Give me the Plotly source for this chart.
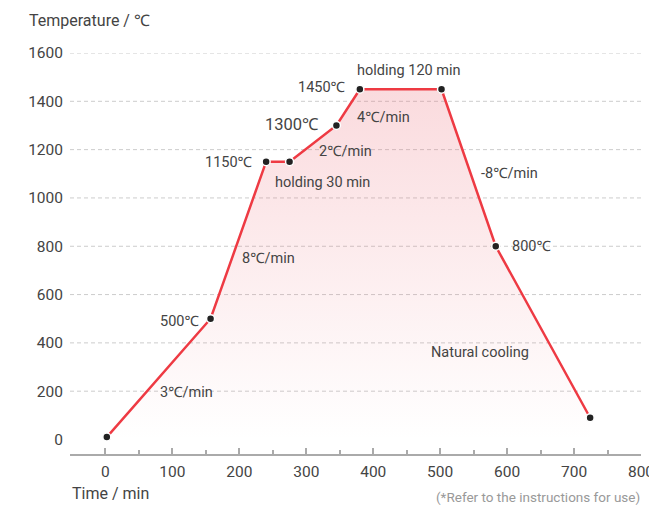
import plotly.graph_objects as go

# firing curve
TIME_MIN = [2, 157, 240, 275, 345, 380, 502, 583, 724]
TEMP_C = [10, 500, 1150, 1150, 1300, 1450, 1450, 800, 90]

X_TICKS = [0, 100, 200, 300, 400, 500, 600, 700, 800]
X_MINOR = [50, 150, 250, 350, 450, 550, 650, 750]
Y_TICKS = [0, 200, 400, 600, 800, 1000, 1200, 1400, 1600]
GRID_LEVELS = [200, 400, 600, 800, 1000, 1200, 1400, 1600]

FONT = "Roboto, Noto Sans, DejaVu Sans, sans-serif"
TEXT_COLOR = "#444444"
RED = "#ee3a43"

fig = go.Figure()
fig.add_trace(
    go.Scatter(
        x=TIME_MIN,
        y=TEMP_C,
        mode="lines+markers",
        line={"color": RED, "width": 2.5},
        marker={"color": "#222222", "size": 8, "line": {"color": "white", "width": 1.5}},
        fill="tozeroy",
        fillgradient={
            "type": "vertical",
            "colorscale": [
                [0, "rgba(236,110,122,0.0)"],
                [1, "rgba(236,110,122,0.25)"],
            ],
        },
        hoverinfo="x+y",
        showlegend=False,
    )
)

for lvl in GRID_LEVELS:
    fig.add_shape(
        type="line", xref="paper", x0=0, x1=1, yref="y", y0=lvl, y1=lvl,
        line={"color": "#cccccc", "width": 1, "dash": "4px,3px"},
        layer="below",
    )

# (text, x, y, xanchor, size)
labels = [
    ("holding 120 min", 453, 1528, "center", 14.5),
    ("1450℃", 362, 1457, "right", 14.5),
    ("4℃/min", 415, 1333, "center", 14.5),
    ("1300℃", 322, 1304, "right", 16.5),
    ("2℃/min", 358, 1193, "center", 14.5),
    ("1150℃", 224, 1147, "right", 14.5),
    ("holding 30 min", 324, 1064, "center", 14.5),
    ("-8℃/min", 604, 1101, "center", 14.5),
    ("800℃", 605, 799, "left", 14.5),
    ("8℃/min", 243, 749, "center", 14.5),
    ("500℃", 142, 489, "right", 14.5),
    ("Natural cooling", 559, 360, "center", 14.5),
    ("3℃/min", 121, 195, "center", 14.5),
]
for text, x, y, anchor, size in labels:
    fig.add_annotation(
        x=x, y=y, text=text, showarrow=False, xanchor=anchor, yanchor="middle",
        font={"family": FONT, "size": size, "color": TEXT_COLOR},
    )

fig.add_annotation(
    xref="paper", yref="paper", x=-0.0753, y=1.0815, text="Temperature / ℃",
    showarrow=False, xanchor="left", yanchor="middle",
    font={"family": FONT, "size": 16, "color": TEXT_COLOR},
)
fig.add_annotation(
    xref="paper", yref="paper", x=0, y=-0.098, text="Time / min",
    showarrow=False, xanchor="left", yanchor="middle",
    font={"family": FONT, "size": 16, "color": TEXT_COLOR},
)
fig.add_annotation(
    xref="paper", yref="paper", x=1.002, y=-0.106,
    text="(*Refer to the instructions for use)",
    showarrow=False, xanchor="right", yanchor="middle",
    font={"family": FONT, "size": 13.5, "color": "#999999"},
)

fig.update_layout(
    width=649,
    height=509,
    margin={"l": 70, "r": 8, "t": 53, "b": 55},
    paper_bgcolor="white",
    plot_bgcolor="white",
    font={"family": FONT, "size": 15.5, "color": TEXT_COLOR},
    xaxis={
        "range": [-53, 800],
        "tickvals": X_TICKS,
        "showgrid": False,
        "zeroline": False,
        "showline": True,
        "linecolor": "#aaaaaa",
        "linewidth": 2,
        "ticks": "inside",
        "ticklen": 6,
        "tickwidth": 1.5,
        "tickcolor": "#aaaaaa",
        "minor": {"tickvals": X_MINOR, "ticks": "inside", "ticklen": 4, "tickwidth": 1.5, "tickcolor": "#aaaaaa"},
        "tickfont": {"size": 15.5, "color": TEXT_COLOR},
        "ticklabeloverflow": "allow",
        "ticklabelstandoff": 2,
        "automargin": False,
    },
    yaxis={
        "range": [-60, 1600],
        "tickvals": Y_TICKS,
        "showgrid": False,
        "zeroline": False,
        "showline": False,
        "ticks": "",
        "ticklabelstandoff": 6,
        "tickfont": {"size": 15.5, "color": TEXT_COLOR},
        "automargin": False,
    },
)

# the page keeps the browser's default 8px body margin; drop it so the figure fills the window
fig.write_html(
    "out.html",
    config={"displayModeBar": False},
    post_script="document.body.style.margin='0';document.body.style.overflow='hidden';",
)
